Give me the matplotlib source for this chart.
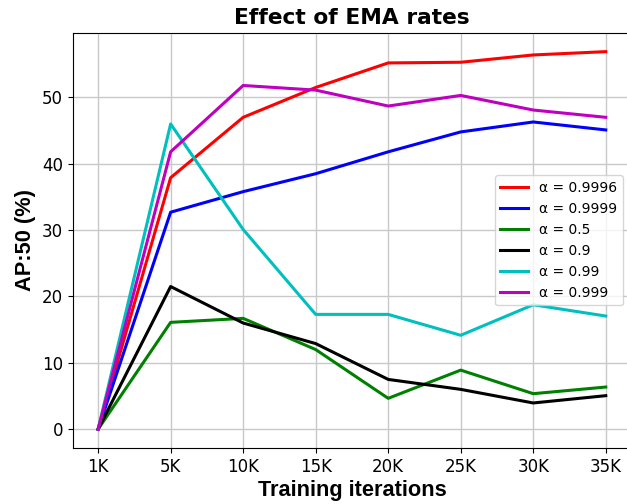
import matplotlib
matplotlib.use("Agg")
import matplotlib.pyplot as plt

iterations = ["1K", "5K", "10K", "15K", "20K", "25K", "30K", "35K"]
labels = ["α = 0.9996", "α = 0.9999", "α = 0.5", "α = 0.9", "α = 0.99", "α = 0.999"]
ap_09996 = [0, 37.9, 47.0, 51.5, 55.2, 55.3, 56.4, 56.9]
ap_09999 = [0, 32.7, 35.8, 38.5, 41.8, 44.8, 46.3, 45.1]
ap_05 = [0, 16.1, 16.7, 12.0, 4.65, 8.9, 5.35, 6.35]
ap_09 = [0, 21.5, 16.0, 12.9, 7.5, 6.0, 3.95, 5.05]
ap_099 = [0, 46.0, 30.1, 17.3, 17.3, 14.15, 18.75, 17.05]
ap_0999 = [0, 41.8, 51.8, 51.1, 48.7, 50.3, 48.1, 47.0]
series = [ap_09996, ap_09999, ap_05, ap_09, ap_099, ap_0999]
colors = ["r", "b", "g", "k", "c", "m"]

fig = plt.figure(figsize=(6.27, 5.04), dpi=100)
ax = fig.add_axes([0.116, 0.111, 0.8906, 0.824])
x = list(range(len(iterations)))
for ys, c, lab in zip(series, colors, labels):
    ax.plot(x, ys, color=c, lw=2.2, label=lab)
ax.set_xticks(x)
ax.set_xticklabels(iterations, fontsize=12)
ax.tick_params(axis="y", labelsize=12)
ax.grid(True, color="#c8c8c8", lw=1)
ax.set_axisbelow(True)
ax.set_title("Effect of EMA rates", fontsize=15.7, fontweight="bold")
lab_font = dict(family="Liberation Sans", fontsize=15.7, fontweight="bold")
ax.set_xlabel("Training iterations", labelpad=3, **lab_font)
ax.set_ylabel("AP:50 (%)", labelpad=4, **lab_font)
ax.legend(loc="center right", bbox_to_anchor=(0.9936, 0.523),
          bbox_transform=fig.transFigure, borderaxespad=0, fontsize=10)
fig.savefig("out.png", dpi=100)
